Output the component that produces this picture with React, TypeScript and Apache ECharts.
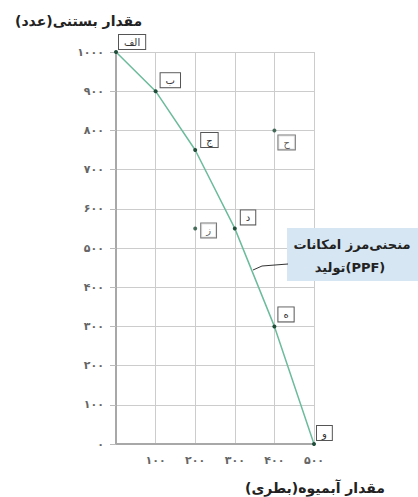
import React, { useEffect, useRef } from "react";
import * as echarts from "echarts";

// PPF curve points: juice (bottles) vs ice cream (units)
const ppfJuice = [0, 100, 200, 300, 400, 500];
const ppfIceCream = [1000, 900, 750, 550, 300, 0];
const ppfLabels = ["الف", "ب", "ج", "د", "ه", "و"];

// points off the curve
const offJuice = [400, 200];
const offIceCream = [800, 550];
const offLabels = ["ح", "ز"];

const xTicks = [0, 100, 200, 300, 400, 500];
const yTicks = [0, 100, 200, 300, 400, 500, 600, 700, 800, 900, 1000];

const yTitle = "مقدار بستنی(عدد)";
const xTitle = "مقدار آبمیوه(بطری)";
const calloutLine1 = "منحنی‌مرز امکانات";
const calloutLine2 = "\u200Fتولید(PPF)";

const FONT = "DejaVu Sans";
const faDigits = "۰۱۲۳۴۵۶۷۸۹";
const toFa = (v: number) => String(v).replace(/[0-9]/g, (d) => faDigits[+d]);

// label offsets (style only)
const ppfOffsets: [number, number][] = [
  [0, -10],
  [2, -11],
  [3, -10],
  [3, -11],
  [1, -12],
  [0, -11],
];
const offOffsets: [number, number][] = [
  [1, 12],
  [3, 2],
];

const boxLabel = (offset: [number, number]) => ({
  show: true,
  position: "right",
  distance: 1,
  offset,
  backgroundColor: "#fff",
  borderColor: "#555",
  borderWidth: 1,
  padding: [2, 5, 2, 5],
  fontSize: 10,
  fontFamily: FONT,
  color: "#333",
});

export default function App() {
  const ref = useRef<HTMLDivElement>(null);
  useEffect(() => {
    if (!ref.current) return;
    const chart = echarts.init(ref.current, null, { renderer: "svg" });
    chart.setOption({
      animation: false,
      backgroundColor: "#fff",
      title: [
        {
          text: yTitle,
          left: 10,
          top: 9,
          textStyle: { fontSize: 14, fontWeight: 600, color: "#222", fontFamily: FONT },
        },
        {
          text: xTitle,
          right: 28,
          top: 476,
          textStyle: { fontSize: 14, fontWeight: 600, color: "#222", fontFamily: FONT },
        },
      ],
      grid: { left: 116, top: 52, width: 198, height: 392, containLabel: false },
      xAxis: {
        type: "value",
        min: xTicks[0],
        max: xTicks[xTicks.length - 1],
        interval: 100,
        axisLine: { show: true, lineStyle: { color: "#a8a8a8", width: 2 } },
        axisTick: { show: false },
        axisLabel: {
          margin: 11,
          fontSize: 11,
          fontWeight: "bold",
          color: "#666",
          fontFamily: FONT,
          formatter: (v: number) => (v === 0 ? "" : toFa(v)),
        },
        splitLine: { show: true, lineStyle: { color: "#cccccc", width: 1 } },
      },
      yAxis: {
        type: "value",
        min: yTicks[0],
        max: yTicks[yTicks.length - 1],
        interval: 100,
        axisLine: { show: true, lineStyle: { color: "#a8a8a8", width: 2 } },
        axisTick: { show: true, length: 6, lineStyle: { color: "#bbb" } },
        axisLabel: {
          margin: 12,
          fontSize: 11,
          fontWeight: "bold",
          color: "#666",
          fontFamily: FONT,
          formatter: (v: number) => toFa(v),
        },
        splitLine: { show: true, lineStyle: { color: "#cccccc", width: 1 } },
      },
      series: [
        {
          type: "line",
          data: ppfJuice.map((x, i) => ({
            value: [x, ppfIceCream[i]],
            label: { ...boxLabel(ppfOffsets[i]), formatter: ppfLabels[i] },
          })),
          showSymbol: true,
          symbol: "circle",
          symbolSize: 4,
          itemStyle: { color: "#1f4d3a" },
          lineStyle: { color: "#6cbc9c", width: 1.5 },
          z: 3,
        },
        {
          type: "scatter",
          data: offJuice.map((x, i) => ({
            value: [x, offIceCream[i]],
            label: { ...boxLabel(offOffsets[i]), formatter: offLabels[i] },
          })),
          symbol: "circle",
          symbolSize: 4,
          itemStyle: { color: "#1f4d3a" },
          z: 3,
        },
      ],
      graphic: [
        {
          type: "rect",
          shape: { x: 287, y: 228, width: 131, height: 53 },
          style: { fill: "#d6e6f2" },
          z: 10,
        },
        {
          type: "text",
          x: 352,
          y: 244,
          style: {
            text: calloutLine1,
            fontSize: 13,
            fontWeight: 600,
            fontFamily: FONT,
            fill: "#222",
            align: "center",
            verticalAlign: "middle",
          },
          z: 11,
        },
        {
          type: "text",
          x: 350,
          y: 267,
          style: {
            text: calloutLine2,
            fontSize: 13,
            fontWeight: 600,
            fontFamily: FONT,
            fill: "#222",
            align: "center",
            verticalAlign: "middle",
          },
          z: 11,
        },
        {
          type: "polyline",
          shape: { points: [[253, 270], [262, 266], [288, 264]] },
          style: { stroke: "#333", lineWidth: 1, fill: "none" },
          z: 11,
        },
      ],
    });
    return () => chart.dispose();
  }, []);
  return (
    <div
      ref={ref}
      style={{ position: "fixed", left: 0, top: 0, width: 418, height: 497 }}
    />
  );
}
